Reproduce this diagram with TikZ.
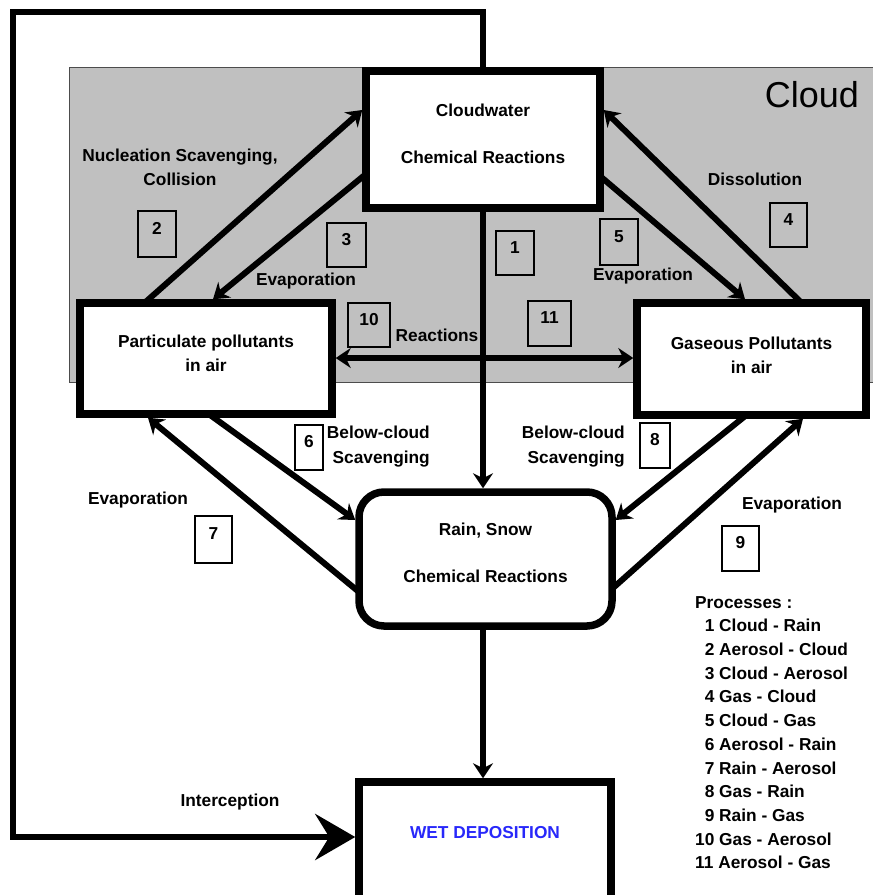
\documentclass[tikz,border=0pt]{standalone}
\usepackage{fontspec}
\setmainfont{Liberation Sans}
\usetikzlibrary{arrows.meta,calc}
\pgfdeclarelayer{bg}
\pgfdeclarelayer{mid}
\pgfsetlayers{bg,mid,main}
\definecolor{cloudgrey}{RGB}{192,192,192}
\definecolor{wetblue}{RGB}{40,40,250}
\begin{document}
\begin{tikzpicture}[x=1pt,y=-1pt,
  >={Stealth[length=15pt,width=20pt,inset=5pt]},
  lbl/.style={font=\bfseries\fontsize{17.3}{20}\selectfont, inner sep=0pt},
  one/.style={lbl, text height=12.4pt, text depth=0pt},
  box/.style={draw, line width=7.5pt, fill=white, font=\bfseries\fontsize{17.3}{24}\selectfont, align=center, inner sep=0pt},
  numbox/.style={draw, line width=1.1pt, inner sep=0pt, text height=12pt, text depth=12pt, font=\bfseries\fontsize{17.3}{20}\selectfont},
  conn/.style={line width=6pt, ->},
  both/.style={line width=6pt, <->},
]
\useasboundingbox (0,0) rectangle (873,895);

% cloud region
\begin{pgfonlayer}{bg}
\fill[cloudgrey] (69,67) rectangle (873,382);
\draw[line width=1pt, black!70] (873,67) -- (69,67) -- (69,382) -- (873,382);
\end{pgfonlayer}
\node[font=\fontsize{36}{40}\selectfont, inner sep=0pt, text height=25.8pt, text depth=0pt] (cloudlbl) at (812,95) {Cloud};

% main boxes
\node[box, minimum width=234pt, minimum height=137pt, text depth=12pt] (cw) at (483,139.5) {Cloudwater\\[23pt]Chemical Reactions};
\node[box, minimum width=252pt, minimum height=111pt, text depth=11pt] (part) at (206,358.5) {Particulate pollutants\\in air};
\node[box, minimum width=229pt, minimum height=112pt, text depth=8pt] (gas) at (751.5,359) {Gaseous Pollutants\\in air};
\node[box, rounded corners=25pt, minimum width=253pt, minimum height=134pt, text depth=13pt] (rain) at (485.5,559) {Rain, Snow\\[23pt]Chemical Reactions};
\node[box, minimum width=252pt, minimum height=120pt, text depth=20pt, text=wetblue] (wet) at (485,842) {WET DEPOSITION};

% connectors
\coordinate (tl) at (13,12);
\begin{pgfonlayer}{mid}
\draw[line width=6.5pt, line join=miter, arrows={-Stealth[length=40pt,width=46pt,inset=14pt]}]
  ([yshift=-5pt]cw.north) -- (cw.north |- tl) -- (tl) -- ([yshift=5pt]tl |- wet.west) -- ([yshift=5pt]wet.west);
\draw[conn] ([xshift=-63pt,yshift=-5pt]part.north) -- ([yshift=29.5pt]cw.west);
\draw[conn] ([xshift=5pt,yshift=-33.5pt]cw.west) -- ([xshift=7pt]part.north);
\draw[conn] ([xshift=51.5pt,yshift=-5pt]gas.north) -- ([yshift=29.5pt]cw.east);
\draw[conn] ([xshift=-5pt,yshift=-35.5pt]cw.east) -- ([xshift=-6.5pt]gas.north);
\draw[both] ([yshift=0.5pt]part.east) -- ([yshift=0.5pt]part.east -| gas.west);
\draw[conn] ([yshift=5pt]cw.south) -- (cw.south |- rain.north);
\draw[conn] ([xshift=1pt,yshift=5pt]part.south) -- ([yshift=39pt]rain.west);
\draw[conn] ([xshift=5pt,yshift=-34pt]rain.west) -- ([xshift=-58pt]part.south);
\draw[conn] ([xshift=-3.5pt,yshift=5pt]gas.south) -- ([yshift=39pt]rain.east);
\draw[conn] ([xshift=-5pt,yshift=-31pt]rain.east) -- ([xshift=51.5pt]gas.south);
\draw[conn] ([yshift=5pt]cw.south |- rain.south) -- (cw.south |- wet.north);
\end{pgfonlayer}

% number boxes
\node[numbox, minimum width=38pt, minimum height=46pt] (n2) at (157,234) {2};
\node[numbox, minimum width=39pt, minimum height=44pt] (n3) at (346.5,245) {3};
\node[numbox, minimum width=38pt, minimum height=44pt] (n1) at (515,253) {1};
\node[numbox, minimum width=38pt, minimum height=46pt] (n5) at (619,242) {5};
\node[numbox, minimum width=37pt, minimum height=44pt] (n4) at (788.5,225) {4};
\node[numbox, minimum width=42pt, minimum height=44pt] (n10) at (369,325) {10};
\node[numbox, minimum width=43pt, minimum height=45pt] (n11) at (549.5,323.5) {11};
\node[numbox, minimum width=28pt, minimum height=45pt] (n6) at (309,447.5) {6};
\node[numbox, minimum width=30pt, minimum height=45pt] (n8) at (655,445.5) {8};
\node[numbox, minimum width=37pt, minimum height=47pt] (n7) at (213.5,539.5) {7};
\node[numbox, minimum width=37pt, minimum height=45pt] (n9) at (740.5,548.5) {9};

% labels
\node[lbl, align=center, font=\bfseries\fontsize{17.3}{24}\selectfont] (lnuc) at (180,167) {Nucleation Scavenging,\\Collision};
\node[one] (lev3) at (306,279) {Evaporation};
\node[one] (ldis) at (755,179) {Dissolution};
\node[one] (lev5) at (643,274) {Evaporation};
\node[one] (lreac) at (437,335) {Reactions};
\node[lbl, align=right, anchor=east, font=\bfseries\fontsize{17.3}{25}\selectfont] (lbc6) at (430,447) {Below-cloud\\Scavenging};
\node[lbl, align=right, anchor=east, font=\bfseries\fontsize{17.3}{25}\selectfont] (lbc8) at (625,447) {Below-cloud\\Scavenging};
\node[one] (lev7) at (138,498) {Evaporation};
\node[one] (lev9) at (792,503) {Evaporation};
\node[one] (lint) at (230,800) {Interception};

% processes list
\node[lbl, align=left, anchor=north west, font=\bfseries\fontsize{17.3}{23.7}\selectfont] (proc) at (695,596)
 {Processes :\\
  \phantom{1}1 Cloud - Rain\\
  \phantom{1}2 Aerosol - Cloud\\
  \phantom{1}3 Cloud - Aerosol\\
  \phantom{1}4 Gas - Cloud\\
  \phantom{1}5 Cloud - Gas\\
  \phantom{1}6 Aerosol - Rain\\
  \phantom{1}7 Rain - Aerosol\\
  \phantom{1}8 Gas - Rain\\
  \phantom{1}9 Rain - Gas\\
  10 Gas - Aerosol\\
  11 Aerosol - Gas};
\end{tikzpicture}
\end{document}
